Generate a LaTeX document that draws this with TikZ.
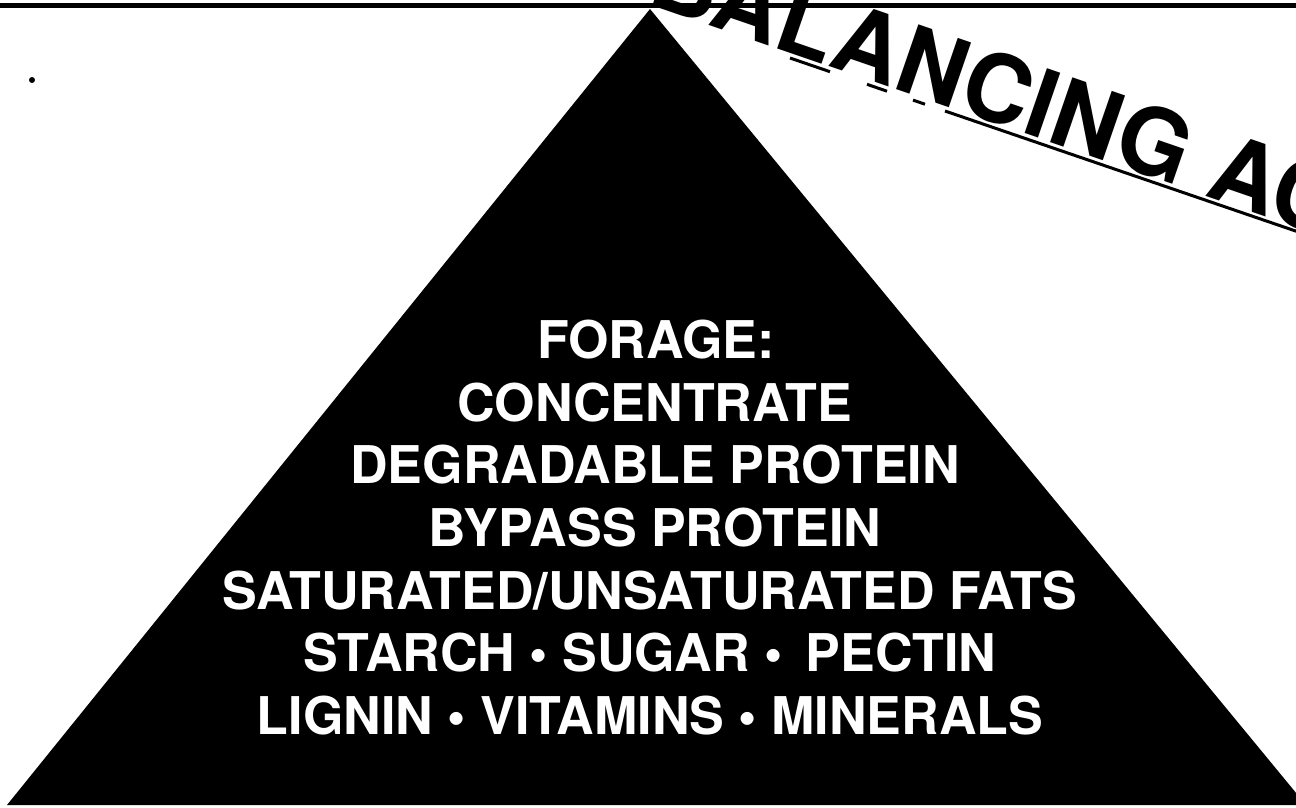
\documentclass[tikz,border=0pt]{standalone}
\usepackage{fontspec}
\setmainfont{TeX Gyre Heros}
\begin{document}
\begin{tikzpicture}[x=1pt,y=-1pt,
  line/.style={white,font=\bfseries\fontsize{52}{60}\selectfont,anchor=base,inner sep=0pt},
  titletext/.style={black,font=\bfseries\fontsize{94}{100}\selectfont,anchor=base west,inner sep=0pt,rotate=-19},
  uline/.style={black,line width=3pt}]
\useasboundingbox (0,0) rectangle (1296,807);
\clip (0,0) rectangle (1296,807);
\fill[white] (0,0) rectangle (1296,807);
% pyramid
\coordinate (apex) at (650,9);
\coordinate (bl) at (7,805);
\coordinate (br) at (1306,805);
\fill[black] (apex) -- (br) -- (bl) -- cycle;
% top rule
\coordinate (tl) at (0,5.5);
\coordinate (tr) at (1296,5.5);
\draw[black,line width=5pt] (tl) -- (tr);
% stray dot
\fill[black] (32,80) circle (3);
% title
\node[titletext] (title) at (645,3) {BALANCING ACT};
\coordinate (u1) at (790,58);  \coordinate (u2) at (830,71.7);
\coordinate (u3) at (867,84.3); \coordinate (u4) at (887,91.2);
\coordinate (u5) at (913,100.1); \coordinate (u6) at (925,104.2);
\coordinate (u7) at (945,111); \coordinate (u8) at (1300,232.5);
\draw[uline] (u1) -- (u2);
\draw[uline] (u3) -- (u4);
\draw[uline] (u5) -- (u6);
\draw[uline] (u7) -- (u8);
% contents
\node[line] (l1) at (656,358) {FORAGE:};
\node[line] (l2) at (655,421) {CONCENTRATE};
\node[line] (l3) at (655,483) {DEGRADABLE PROTEIN};
\node[line] (l4) at (655,546) {BYPASS PROTEIN};
\node[line] (l5) at (650,609) {SATURATED/UNSATURATED FATS};
\node[line] (l6) at (650,671) {STARCH \textbullet\ SUGAR \textbullet\hspace{0.45em}PECTIN};
\node[line] (l7) at (650,734) {LIGNIN \textbullet\ VITAMINS \textbullet\ MINERALS};
\end{tikzpicture}
\end{document}
